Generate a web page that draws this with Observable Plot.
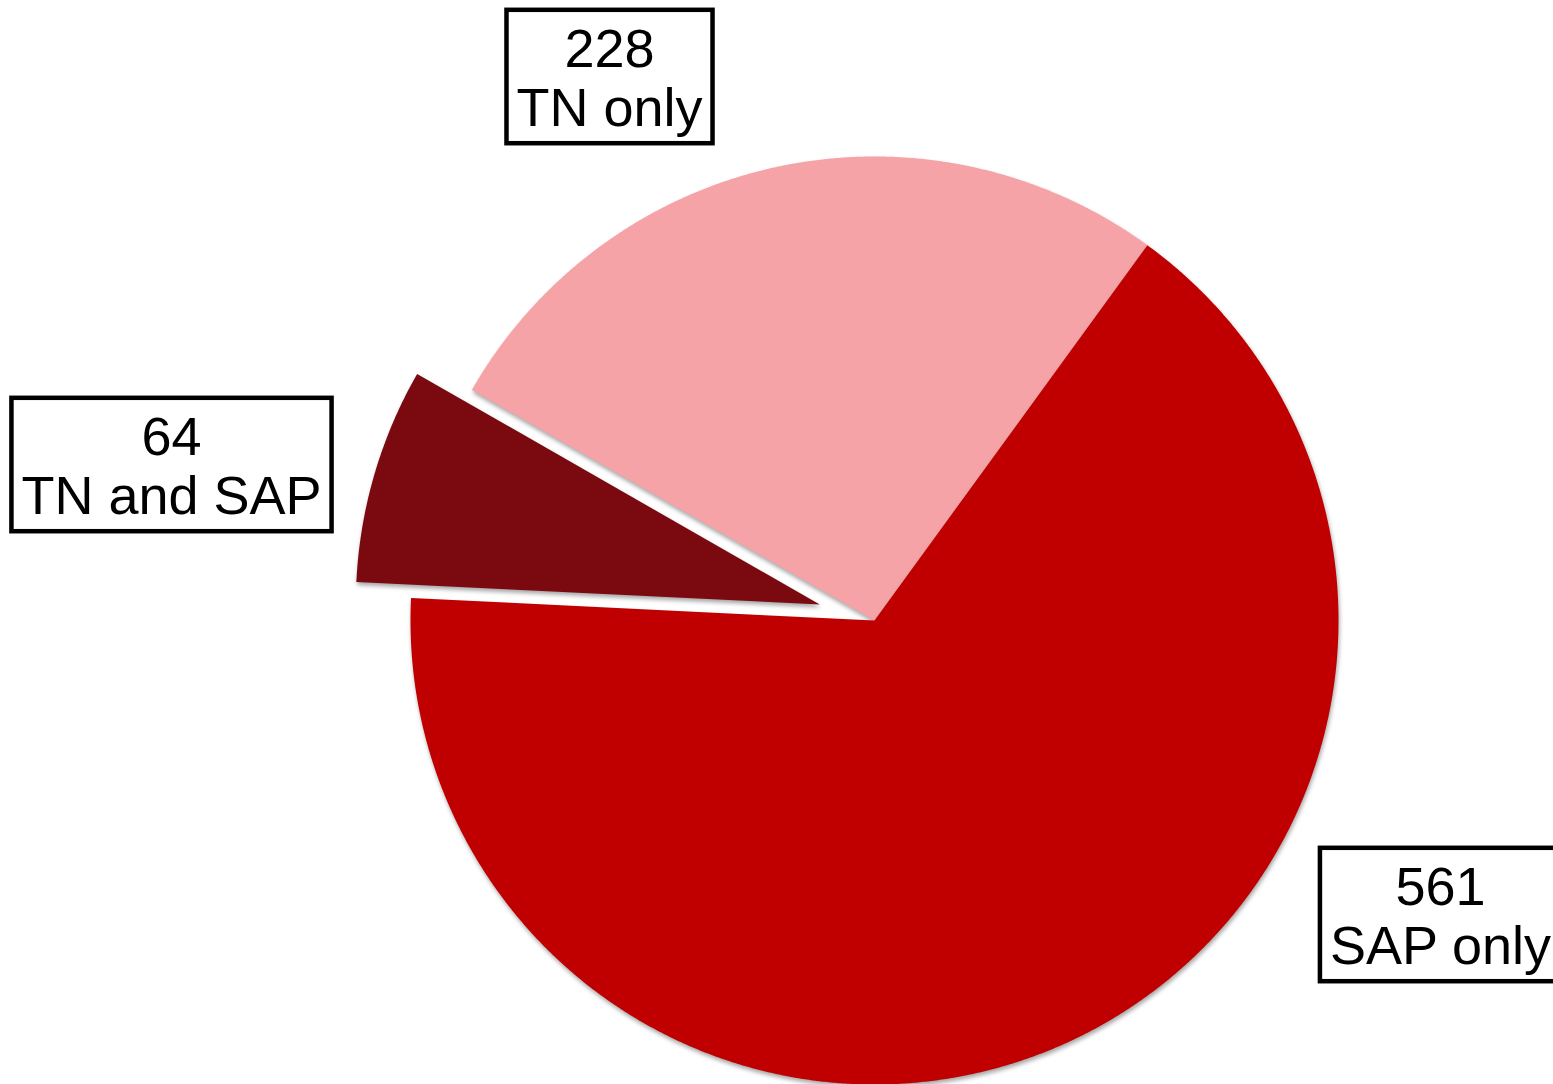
<!DOCTYPE html>
<html>
<head>
<meta charset="utf-8">
<script src="https://cdn.jsdelivr.net/npm/d3@7"></script>
<script src="https://cdn.jsdelivr.net/npm/@observablehq/plot@0.6"></script>
<style>
  html, body { margin: 0; padding: 0; background: #fff; overflow: hidden; }
  #chart svg { overflow: hidden; display: block; }
</style>
</head>
<body>
<div id="chart"></div>
<script>
// ---- data ----
const categories = ["TN only", "SAP only", "TN and SAP"];
const counts = [228, 561, 64];
const colors = ["#F6A3A7", "#C00000", "#7B0A10"];
const exploded = [false, false, true];

// ---- layout ----
const W = 1553, H = 1084;
const cx = 874, cy = 620, R = 464;
const startDeg = -60.2;
const explodeDist = 57;
const labelX = [609, 1440, 171];
const labelY = [77, 915, 465];
const fontSize = 54;

// ---- pie geometry from data ----
const a0 = startDeg * Math.PI / 180;
const arcs = d3.pie().sort(null).value(d => d).startAngle(a0).endAngle(a0 + 2 * Math.PI)(counts);

const pts = [];
arcs.forEach((a, i) => {
  const mid = (a.startAngle + a.endAngle) / 2;
  const off = exploded[i] ? explodeDist : 0;
  const ox = cx + off * Math.sin(mid), oy = cy - off * Math.cos(mid);
  pts.push({cat: categories[i], x: ox, y: oy});
  const n = Math.max(2, Math.ceil((a.endAngle - a.startAngle) / (Math.PI / 720)));
  for (let k = 0; k <= n; k++) {
    const t = a.startAngle + (a.endAngle - a.startAngle) * k / n;
    pts.push({cat: categories[i], x: ox + R * Math.sin(t), y: oy - R * Math.cos(t)});
  }
});

const labels = categories.map((c, i) => ({
  text: `${counts[i]}\n${c}`, x: labelX[i], y: labelY[i]
}));

const svg = Plot.plot({
  width: W, height: H, margin: 0,
  style: {fontFamily: "'Liberation Sans', Arial, sans-serif", background: "#fff"},
  x: {domain: [0, W], range: [0, W], axis: null},
  y: {domain: [0, H], range: [0, H], axis: null},
  color: {domain: categories, range: colors},
  marks: [
    Plot.line(pts, {x: "x", y: "y", z: "cat", fill: "cat", stroke: "none", curve: "linear-closed"}),
    Plot.text(labels, {x: "x", y: "y", text: "text", fontSize, lineHeight: 1.1, fill: "black",
      fontFamily: "'Liberation Sans', Arial, sans-serif", textAnchor: "middle"})
  ]
});
document.getElementById("chart").appendChild(svg);

// soft drop shadow on slices
svg.querySelectorAll('g[aria-label="line"] path').forEach(p => {
  p.style.filter = "drop-shadow(1px 3px 2px rgba(0,0,0,0.35))";
});

// label boxes sized from the rendered text
const ns = "http://www.w3.org/2000/svg";
svg.querySelectorAll('g[aria-label="text"] text').forEach(t => {
  const b = t.getBBox();
  const padX = 10, padTop = 8, padBot = 6;
  const r = document.createElementNS(ns, "rect");
  r.setAttribute("x", b.x - padX);
  r.setAttribute("y", b.y - padTop);
  r.setAttribute("width", b.width + 2 * padX);
  r.setAttribute("height", b.height + padTop + padBot);
  r.setAttribute("fill", "white");
  r.setAttribute("stroke", "black");
  r.setAttribute("stroke-width", 4.5);
  const tr = t.getAttribute("transform");
  if (tr) r.setAttribute("transform", tr);
  t.parentNode.insertBefore(r, t);
});
</script>
</body>
</html>
